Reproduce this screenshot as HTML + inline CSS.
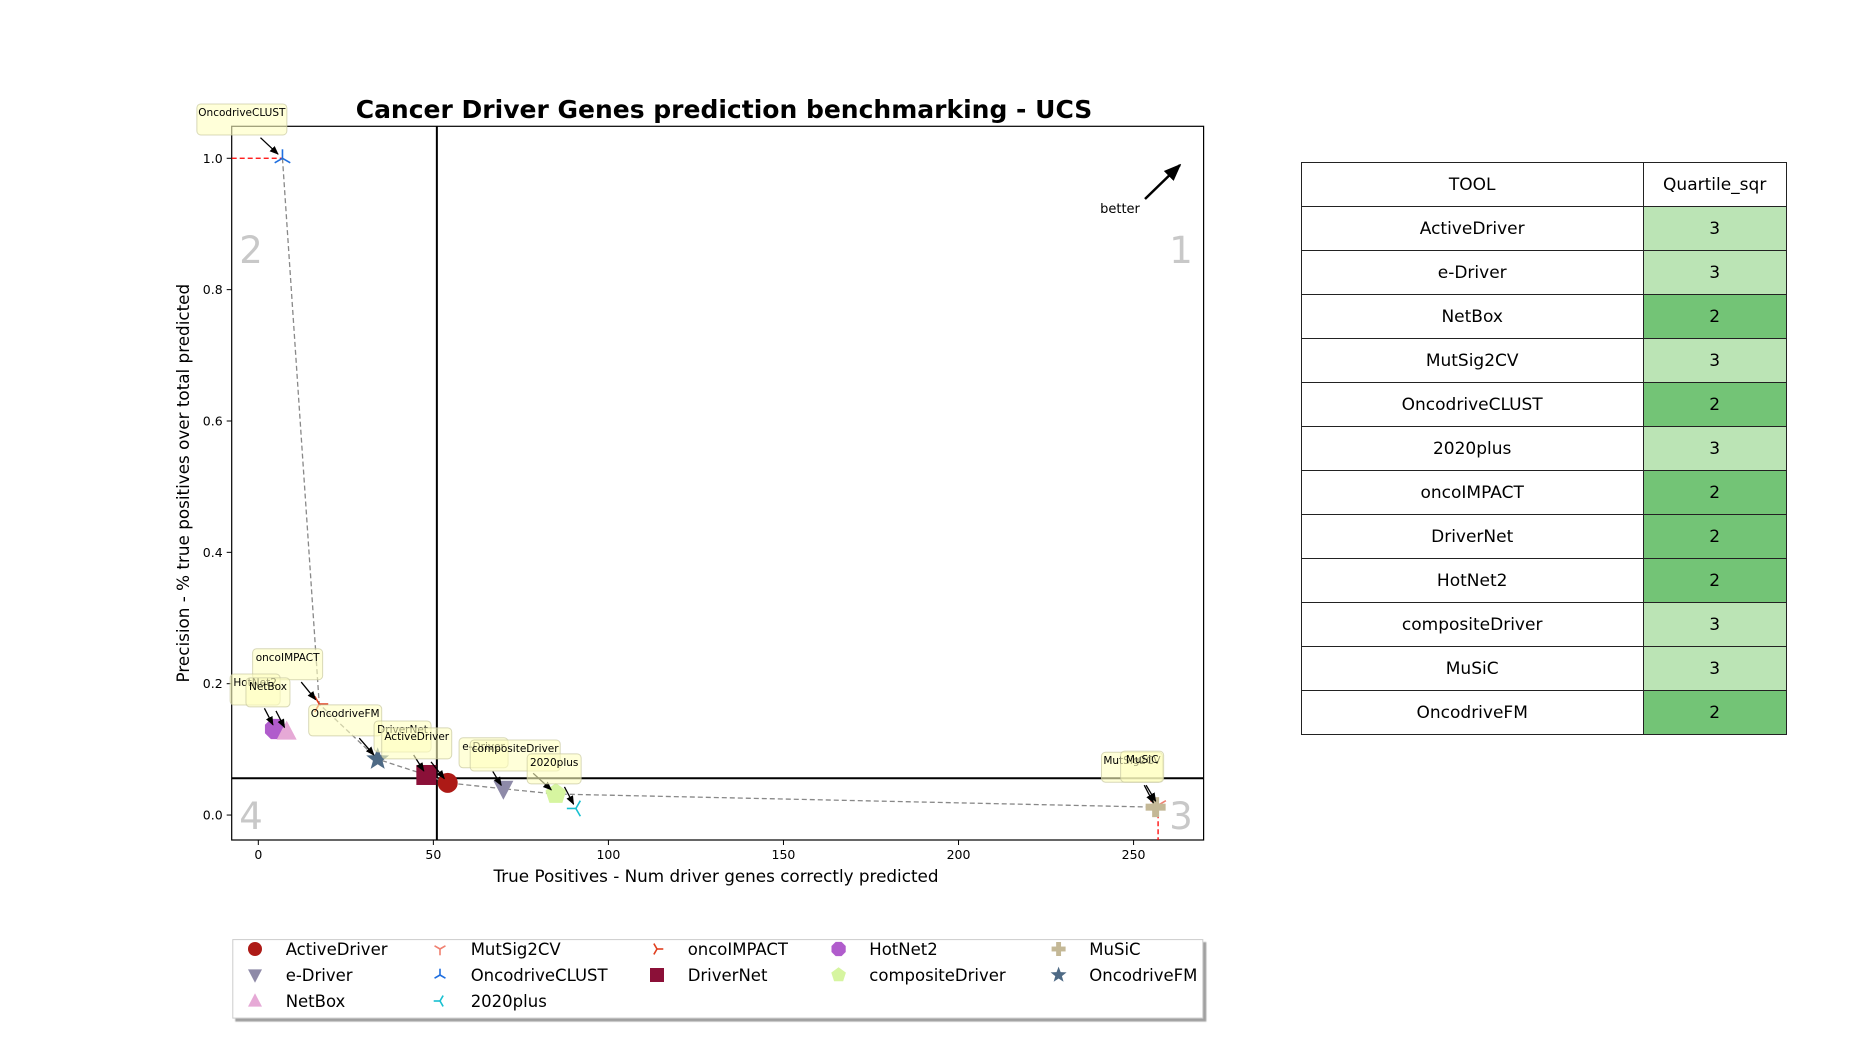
<!DOCTYPE html>
<html><head><meta charset="utf-8"><style>
body{margin:0;background:#fff;width:1850px;height:1050px;overflow:hidden;font-family:"DejaVu Sans","Liberation Sans",sans-serif}
svg{position:absolute;left:0;top:0}
table{position:absolute;left:1300.7px;top:162.3px;border-collapse:collapse;font-family:"DejaVu Sans","Liberation Sans",sans-serif;font-size:17px}
td{border:1.5px solid #222;text-align:center;height:44px;padding:0;box-sizing:border-box}
td.t{width:342px}td.q{width:143px}
.l{background:#bbe4b5}.d{background:#73c476}
</style></head><body>
<svg id="chart" width="1850" height="1050" xmlns="http://www.w3.org/2000/svg"></svg>
<table>
<tr><td class="t">TOOL</td><td class="q">Quartile_sqr</td></tr>
<tr><td class="t">ActiveDriver</td><td class="q l">3</td></tr>
<tr><td class="t">e-Driver</td><td class="q l">3</td></tr>
<tr><td class="t">NetBox</td><td class="q d">2</td></tr>
<tr><td class="t">MutSig2CV</td><td class="q l">3</td></tr>
<tr><td class="t">OncodriveCLUST</td><td class="q d">2</td></tr>
<tr><td class="t">2020plus</td><td class="q l">3</td></tr>
<tr><td class="t">oncoIMPACT</td><td class="q d">2</td></tr>
<tr><td class="t">DriverNet</td><td class="q d">2</td></tr>
<tr><td class="t">HotNet2</td><td class="q d">2</td></tr>
<tr><td class="t">compositeDriver</td><td class="q l">3</td></tr>
<tr><td class="t">MuSiC</td><td class="q l">3</td></tr>
<tr><td class="t">OncodriveFM</td><td class="q d">2</td></tr>
</table>
<script>
const tools=["ActiveDriver","e-Driver","NetBox","MutSig2CV","OncodriveCLUST","2020plus","oncoIMPACT","DriverNet","HotNet2","compositeDriver","MuSiC","OncodriveFM"];
const truePos=[54.1,70,8.1,257,6.9,90.7,17.4,48,4.8,85,256.3,34.1];
const precision=[0.049,0.040,0.127,0.015,1.0,0.010,0.169,0.061,0.131,0.032,0.012,0.085];
const frontier=["OncodriveCLUST","oncoIMPACT","OncodriveFM","DriverNet","ActiveDriver","e-Driver","compositeDriver","MuSiC"];
const xTicks=[0,50,100,150,200,250];
const yTicks=[0,0.2,0.4,0.6,0.8,1.0];
const xCut=51;
const yCut=0.056;
const colors=["#ad1a16","#8e8aa8","#e6a9d6","#f08070","#1f6fe0","#18c0d0","#e04020","#8b1038","#b05ccc","#d6f5a0","#c4b896","#4e6a85"];
const shapes=["circle","tdown","tup","y1","y2","y3","y4","square","oct","pent","plus","star"];
// annotation layout (pixels relative to point): box dx,dy,w,h ; arrow start sx,sy
const boxLayout=[[-66,-55,70,31,-16.7,-21],[-44.3,-51,49,30,-10.6,-17.3],[-40.7,-53.7,44,29,-10.7,-20.7],[-56.6,-53,61,30,-12,-20],[-85.6,-54.3,90,31,-22,-20.6],[-48.7,-54.6,54,30,-11.4,-21.6],[-66.6,-55.3,70,31,-18,-22],[-52.3,-54,57,31,-12.7,-20],[-45,-55,50,31,-10.7,-20.7],[-85.7,-54,90,31,-22.7,-20.7],[-35,-56,43,31,-11.4,-22],[-69,-54.3,73,31,-18.4,-21]];
const drawOrder=[4,6,8,2,11,7,0,1,9,5,3,10];

const L=231.7,R=1203.6,T=126.3,B=840;
const X0=-7.6,X1=270,Y0=-0.038,Y1=1.0487;
const sx=v=>L+(v-X0)/(X1-X0)*(R-L);
const sy=v=>B-(v-Y0)/(Y1-Y0)*(B-T);
const NS="http://www.w3.org/2000/svg";
const svg=document.getElementById('chart');
function mk(tag,attrs,parent){const e=document.createElementNS(NS,tag);for(const k in attrs)e.setAttribute(k,attrs[k]);(parent||svg).appendChild(e);return e;}
const defs=mk('defs',{});
const m=mk('marker',{id:'ah',viewBox:'0 0 10 10',refX:'9',refY:'5',markerWidth:'7',markerHeight:'7',orient:'auto-start-reverse'},defs);
mk('path',{d:'M0,1 L10,5 L0,9 z',fill:'#000'},m);
const sh=mk('filter',{id:'shd',x:'-5%',y:'-5%',width:'110%',height:'130%'},defs);
mk('feDropShadow',{dx:'3',dy:'3',stdDeviation:'0.5','flood-color':'#888','flood-opacity':'0.8'},sh);

function marker(shape,cx,cy,s,col,parent){
  const g=mk('g',{},parent);
  const k=s/10;
  if(shape==='circle')mk('circle',{cx,cy,r:10*k,fill:col},g);
  else if(shape==='square')mk('rect',{x:cx-10*k,y:cy-10*k,width:20*k,height:20*k,fill:col},g);
  else if(shape==='tup')mk('polygon',{points:`${cx},${cy-11*k} ${cx+10*k},${cy+8*k} ${cx-10*k},${cy+8*k}`,fill:col},g);
  else if(shape==='tdown')mk('polygon',{points:`${cx},${cy+11*k} ${cx+10*k},${cy-8*k} ${cx-10*k},${cy-8*k}`,fill:col},g);
  else if(shape==='oct'||shape==='pent'){const n=shape==='oct'?8:5;const p=[];for(let i=0;i<n;i++){const a=(shape==='oct'?Math.PI/8:-Math.PI/2)+i*2*Math.PI/n;p.push((cx+11*k*Math.cos(a))+','+(cy+11*k*Math.sin(a)));}mk('polygon',{points:p.join(' '),fill:col},g);}
  else if(shape==='star'){const p=[];for(let i=0;i<10;i++){const r=i%2?5*k:12*k;const a=-Math.PI/2+i*Math.PI/5;p.push((cx+r*Math.cos(a))+','+(cy+r*Math.sin(a)));}mk('polygon',{points:p.join(' '),fill:col},g);}
  else if(shape==='plus'){mk('rect',{x:cx-10*k,y:cy-3.5*k,width:20*k,height:7*k,fill:col},g);mk('rect',{x:cx-3.5*k,y:cy-10*k,width:7*k,height:20*k,fill:col},g);}
  else{const base={y1:90,y2:-90,y3:180,y4:0}[shape];for(let i=0;i<3;i++){const a=(base+i*120)*Math.PI/180;mk('line',{x1:cx,y1:cy,x2:cx+9*k*Math.cos(a),y2:cy+9*k*Math.sin(a),stroke:col,'stroke-width':1.6},g);}}
  return g;
}

const ttl=mk('text',{x:724,y:118,'text-anchor':'middle','font-size':'25','font-weight':'bold'},svg);ttl.textContent='Cancer Driver Genes prediction benchmarking - UCS';

const axes=mk('rect',{x:L,y:T,width:R-L,height:B-T,fill:'none',stroke:'#000','stroke-width':1.2});


xTicks.forEach(v=>{mk('line',{x1:sx(v),x2:sx(v),y1:B,y2:B+5,stroke:'#000'});const t=mk('text',{x:sx(v),y:B+19,'text-anchor':'middle','font-size':'12.5'});t.textContent=v;});
yTicks.forEach(v=>{mk('line',{x1:L,x2:L-5,y1:sy(v),y2:sy(v),stroke:'#000'});const t=mk('text',{x:L-9,y:sy(v)+4.5,'text-anchor':'end','font-size':'12.5'});t.textContent=v.toFixed(1);});
const xl=mk('text',{x:716,y:882,'text-anchor':'middle','font-size':'16.8'});xl.textContent='True Positives - Num driver genes correctly predicted';

const yl=mk('text',{x:0,y:0,'text-anchor':'middle','font-size':'16.8',transform:`translate(189,${(T+B)/2}) rotate(-90)`});yl.textContent='Precision - % true positives over total predicted';


[["2",251,263],["1",1181,263],["4",251,829],["3",1181,829]].forEach(q=>{const t=mk('text',{x:q[1],y:q[2],'text-anchor':'middle','font-size':'37',fill:'#c8c8c8'});t.textContent=q[0];});
mk('line',{x1:sx(xCut),x2:sx(xCut),y1:T,y2:B,stroke:'#000','stroke-width':2});
mk('line',{x1:L,x2:R,y1:sy(yCut),y2:sy(yCut),stroke:'#000','stroke-width':2});
const bt=mk('text',{x:1120,y:213,'text-anchor':'middle','font-size':'13'});bt.textContent='better';

mk('line',{x1:1145,y1:199,x2:1180,y2:165,stroke:'#000','stroke-width':2.5,'marker-end':'url(#ah)'});

const ic=tools.indexOf("OncodriveCLUST"),im=tools.indexOf("MutSig2CV");
mk('line',{x1:L,x2:sx(truePos[ic]),y1:sy(precision[ic]),y2:sy(precision[ic]),stroke:'red','stroke-width':1.3,'stroke-dasharray':'5,3'});
mk('line',{x1:sx(truePos[im]),x2:sx(truePos[im]),y1:sy(precision[im]),y2:B,stroke:'red','stroke-width':1.3,'stroke-dasharray':'5,3'});
const fp=frontier.map(n=>{const i=tools.indexOf(n);return sx(truePos[i])+','+sy(precision[i]);}).join(' ');
const fl=mk('polyline',{points:fp,fill:'none',stroke:'#888','stroke-width':1.3,'stroke-dasharray':'5,3'});

drawOrder.forEach(i=>{const g=marker(shapes[i],sx(truePos[i]),sy(precision[i]),10,colors[i]);

});
drawOrder.forEach(i=>{const px=sx(truePos[i]),py=sy(precision[i]);const b=boxLayout[i];
 const g=mk('g',{});
 
 
 mk('rect',{x:px+b[0],y:py+b[1],width:b[2],height:b[3],rx:4,fill:'#ffffc0','fill-opacity':0.6,stroke:'#c8c8a0','stroke-opacity':0.7},g);
 const t=mk('text',{x:px+b[0]+b[2]/2,y:py+b[1]+12,'text-anchor':'middle','font-size':'10.5'},g);t.textContent=tools[i];
 mk('line',{x1:px+b[4],y1:py+b[5],x2:px+b[4]*0.2,y2:py+b[5]*0.2,stroke:'#000','stroke-width':1.3,'marker-end':'url(#ah)'},g);
});
const lg=mk('g',{});

mk('rect',{x:232.8,y:939.6,width:970,height:78.5,fill:'#fff',stroke:'#ccc',filter:'url(#shd)'},lg);
const colX=[255,440,657,838.6,1058.6],rowY=[949,975,1001];
const legOrder=[[0,1,2],[3,4,5],[6,7],[8,9],[10,11]];
legOrder.forEach((col,c)=>col.forEach((i,r)=>{const e=mk('g',{},lg);
 
 
 marker(shapes[i],colX[c],rowY[r],7,colors[i],e);
 const t=mk('text',{x:colX[c]+30.7,y:rowY[r]+6,'font-size':'16.5'},e);t.textContent=tools[i];}));
</script>
</body></html>
